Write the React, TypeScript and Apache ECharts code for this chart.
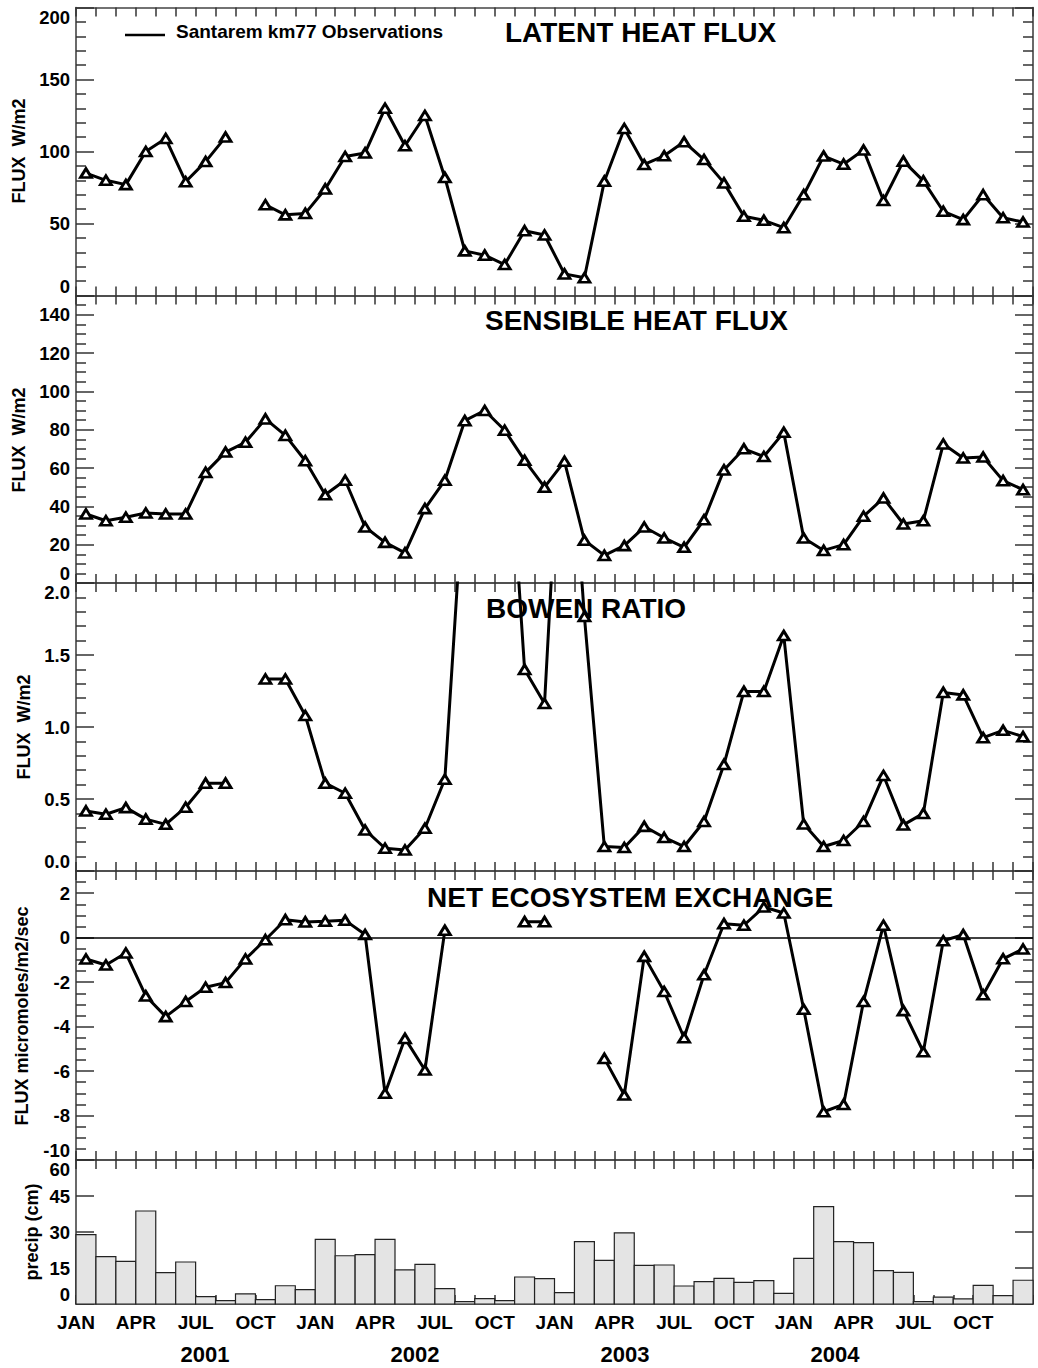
import React, { useEffect, useRef } from 'react';
import * as echarts from 'echarts';

// ---- data (one value per month, Jan 2001 .. Dec 2004; null = missing) ----
const MONTH_LABELS = ['JAN', 'APR', 'JUL', 'OCT'];
const YEAR_LABELS = ['2001', '2002', '2003', '2004'];

const latentHeat: (number | null)[] = [
  85, 80, 77, 100, 109, 79, 93, 110, null, 63, 56, 57,
  74, 96.5, 99, 130, 104, 125, 82, 31, 28, 21.5, 45, 42,
  15, 12.3, 79.4, 116, 91, 97, 106.7, 94.4, 78.2, 55, 52.2, 47.1,
  70, 96.8, 91.2, 101, 66, 93.3, 79.6, 58.5, 52.7, 70, 54, 51,
];

const sensibleHeat: (number | null)[] = [
  36, 32.5, 34.3, 36.5, 36, 36, 57.7, 68.3, 73.4, 85.6, 77, 63.8,
  46, 53.6, 29.2, 21.2, 15.7, 38.8, 53.6, 84.7, 90, 79.7, 64, 50,
  63.5, 22.3, 14.4, 19.5, 29.2, 23.5, 18.6, 33, 59, 70, 66, 78.6,
  23.5, 17, 20, 34.8, 44.3, 30.8, 32.5, 72.5, 65.2, 65.7, 53.4, 48.7,
];

const bowenRatio: (number | null)[] = [
  0.417, 0.394, 0.44, 0.36, 0.324, 0.443, 0.61, 0.61, null, 1.333, 1.333, 1.08,
  0.61, 0.54, 0.285, 0.158, 0.146, 0.297, 0.637, 2.8, 3.2, 3.5, 1.4, 1.163,
  3.7, 1.767, 0.17, 0.163, 0.31, 0.233, 0.17, 0.344, 0.74, 1.247, 1.247, 1.635,
  0.326, 0.17, 0.212, 0.344, 0.663, 0.32, 0.4, 1.24, 1.223, 0.926, 0.977, 0.933,
];

const netEcosystemExchange: (number | null)[] = [
  -0.96, -1.23, -0.69, -2.62, -3.55, -2.87, -2.23, -2.02, -0.96, -0.09, 0.81, 0.71,
  0.74, 0.78, 0.14, -7.0, -4.53, -5.95, 0.33, null, null, null, 0.72, 0.72,
  null, null, -5.43, -7.08, -0.84, -2.42, -4.5, -1.67, 0.63, 0.56, 1.38, 1.11,
  -3.22, -7.83, -7.5, -2.87, 0.56, -3.28, -5.13, -0.14, 0.14, -2.57, -0.95, -0.51,
];

const precipitation: number[] = [
  28.9, 19.7, 17.8, 38.75, 13.1, 17.5, 3.05, 1.4, 4.2, 1.8, 7.6, 6.0,
  26.9, 20.1, 20.6, 26.9, 14.2, 16.5, 6.4, 1.0, 2.2, 1.4, 11.25, 10.6,
  4.7, 26, 18.2, 29.6, 16.1, 16.25, 7.5, 9.3, 10.7, 9.0, 9.7, 4.4,
  19, 40.6, 26, 25.6, 13.9, 13.2, 1.0, 2.9, 2.1, 7.8, 3.5, 9.9,
];

// ---- layout / style ----
const FONT = "'Liberation Sans', Arial, Helvetica, sans-serif";
const LEFT = 76;
const WIDTH = 957;
const GRIDS = [
  { top: 7.5, height: 288 },
  { top: 295.5, height: 287.5 },
  { top: 583, height: 288 },
  { top: 871, height: 289 },
  { top: 1160, height: 144 },
];
const Y_CFG = [
  { min: 0, max: 200, interval: 50, minor: 5, fmt: (v: number) => String(v), showMax: true },
  { min: 0, max: 150, interval: 20, minor: 4, fmt: (v: number) => String(v), showMax: false },
  { min: 0, max: 2, interval: 0.5, minor: 5, fmt: (v: number) => v.toFixed(1), showMax: true },
  { min: -10, max: 3, interval: 2, minor: 4, fmt: (v: number) => String(v), showMax: false },
  { min: 0, max: 60, interval: 15, minor: 0, fmt: (v: number) => String(v), showMax: true },
];

const AXIS_LINE = { color: '#444', width: 1.6 };
const TICK_LINE = { color: '#333', width: 1.5 };

function buildOption() {
  const grid = GRIDS.map((g) => ({ left: LEFT, width: WIDTH, top: g.top, height: g.height, containLabel: false }));

  const xAxis: any[] = [];
  const yAxis: any[] = [];
  GRIDS.forEach((_, gi) => {
    const isLast = gi === GRIDS.length - 1;
    ['bottom', 'top'].forEach((pos) => {
      xAxis.push({
        type: 'value',
        gridIndex: gi,
        position: pos,
        min: 0,
        max: 48,
        interval: 1,
        axisLine: { show: true, onZero: false, lineStyle: AXIS_LINE },
        axisTick: { show: true, inside: true, length: 9, lineStyle: TICK_LINE },
        splitLine: { show: false },
        axisLabel:
          isLast && pos === 'bottom'
            ? {
                show: true,
                margin: 9,
                color: '#000',
                fontSize: 19,
                fontWeight: 'bold',
                fontFamily: FONT,
                formatter: (v: number) => (v % 3 === 0 && v < 48 ? MONTH_LABELS[(v / 3) % 4] : ''),
              }
            : { show: false },
      });
    });
    const c = Y_CFG[gi];
    ['left', 'right'].forEach((pos) => {
      yAxis.push({
        type: 'value',
        gridIndex: gi,
        position: pos,
        min: c.min,
        max: c.max,
        interval: c.interval,
        axisLine: { show: true, onZero: false, lineStyle: AXIS_LINE },
        axisTick: { show: true, inside: true, length: 18, lineStyle: TICK_LINE },
        minorTick: c.minor
          ? { show: true, splitNumber: c.minor, length: 10, lineStyle: TICK_LINE }
          : { show: false },
        splitLine: { show: false },
        minorSplitLine: { show: false },
        axisLabel:
          pos === 'left'
            ? {
                show: true,
                margin: 6,
                color: '#000',
                fontSize: 18.5,
                fontWeight: 'bold',
                fontFamily: FONT,
                formatter: c.fmt,
                showMaxLabel: c.showMax,
                showMinLabel: true,
                verticalAlignMinLabel: 'bottom',
                verticalAlignMaxLabel: 'top',
              }
            : { show: false },
      });
    });
  });

  const lineSeries = (gi: number, values: (number | null)[], extra: any = {}) => ({
    type: 'line',
    xAxisIndex: gi * 2,
    yAxisIndex: gi * 2,
    data: values.map((v, i) => [i + 0.5, v === null ? '-' : v]),
    symbol: 'triangle',
    symbolSize: [11, 9],
    showAllSymbol: true,
    connectNulls: false,
    clip: true,
    silent: true,
    lineStyle: { color: '#000', width: 3 },
    itemStyle: { color: '#fff', borderColor: '#000', borderWidth: 2.8 },
    emphasis: { disabled: true },
    z: 3,
    ...extra,
  });

  const series: any[] = [
    lineSeries(0, latentHeat),
    lineSeries(1, sensibleHeat),
    lineSeries(2, bowenRatio),
    lineSeries(3, netEcosystemExchange, {
      markLine: {
        silent: true,
        symbol: 'none',
        label: { show: false },
        lineStyle: { color: '#000', width: 1.5, type: 'solid' },
        data: [{ yAxis: 0 }],
      },
    }),
    {
      type: 'custom',
      xAxisIndex: 8,
      yAxisIndex: 8,
      silent: true,
      data: precipitation.map((v, i) => [i + 0.5, v]),
      encode: { x: 0, y: 1 },
      renderItem: (_params: any, api: any) => {
        const cx = api.value(0);
        const v = api.value(1);
        const a = api.coord([cx - 0.5, 0]);
        const b = api.coord([cx + 0.5, v]);
        return {
          type: 'rect',
          shape: { x: a[0], y: b[1], width: b[0] - a[0], height: a[1] - b[1] },
          style: { fill: '#e4e4e4', stroke: '#222', lineWidth: 1.2 },
        };
      },
      z: 2,
    },
  ];

  const text = (
    x: number,
    y: number,
    t: string,
    size: number,
    align: string,
    rotation = 0,
  ) => ({
    type: 'text',
    x,
    y,
    rotation,
    z: 20,
    silent: true,
    style: {
      text: t,
      fill: '#000',
      fontSize: size,
      fontWeight: 'bold',
      fontFamily: FONT,
      textAlign: align,
      align,
      textVerticalAlign: 'middle',
      verticalAlign: 'middle',
    },
  });

  const R = Math.PI / 2;
  const graphic: any[] = [
    { type: 'line', z: 20, silent: true, shape: { x1: 125, y1: 35, x2: 165, y2: 35 }, style: { stroke: '#000', lineWidth: 2.5 } },
    text(176, 31.5, 'Santarem km77 Observations', 19, 'left'),
    text(505, 32, 'LATENT HEAT FLUX', 28, 'left'),
    text(485, 320.5, 'SENSIBLE HEAT FLUX', 28, 'left'),
    text(486, 608, 'BOWEN RATIO', 28, 'left'),
    text(427, 897, 'NET ECOSYSTEM EXCHANGE', 28, 'left'),
    text(18.5, 151, 'FLUX  W/m2', 18, 'center', R),
    text(18.5, 440, 'FLUX  W/m2', 18, 'center', R),
    text(23.5, 727, 'FLUX  W/m2', 18, 'center', R),
    text(22, 1016, 'FLUX micromoles/m2/sec', 18, 'center', R),
    text(32, 1232, 'precip (cm)', 18, 'center', R),
    ...YEAR_LABELS.map((y, i) => text(205 + i * 210, 1354, y, 22, 'center')),
  ];

  return {
    animation: false,
    backgroundColor: '#fff',
    textStyle: { fontFamily: FONT },
    grid,
    xAxis,
    yAxis,
    series,
    graphic,
  };
}

export default function App() {
  const ref = useRef<HTMLDivElement>(null);
  useEffect(() => {
    if (!ref.current) return;
    const chart = echarts.init(ref.current, undefined, { renderer: 'svg' });
    chart.setOption(buildOption() as any);
    return () => chart.dispose();
  }, []);
  return (
    <div
      ref={ref}
      style={{ position: 'absolute', left: 0, top: 0, width: 1038, height: 1368, background: '#fff' }}
    />
  );
}
